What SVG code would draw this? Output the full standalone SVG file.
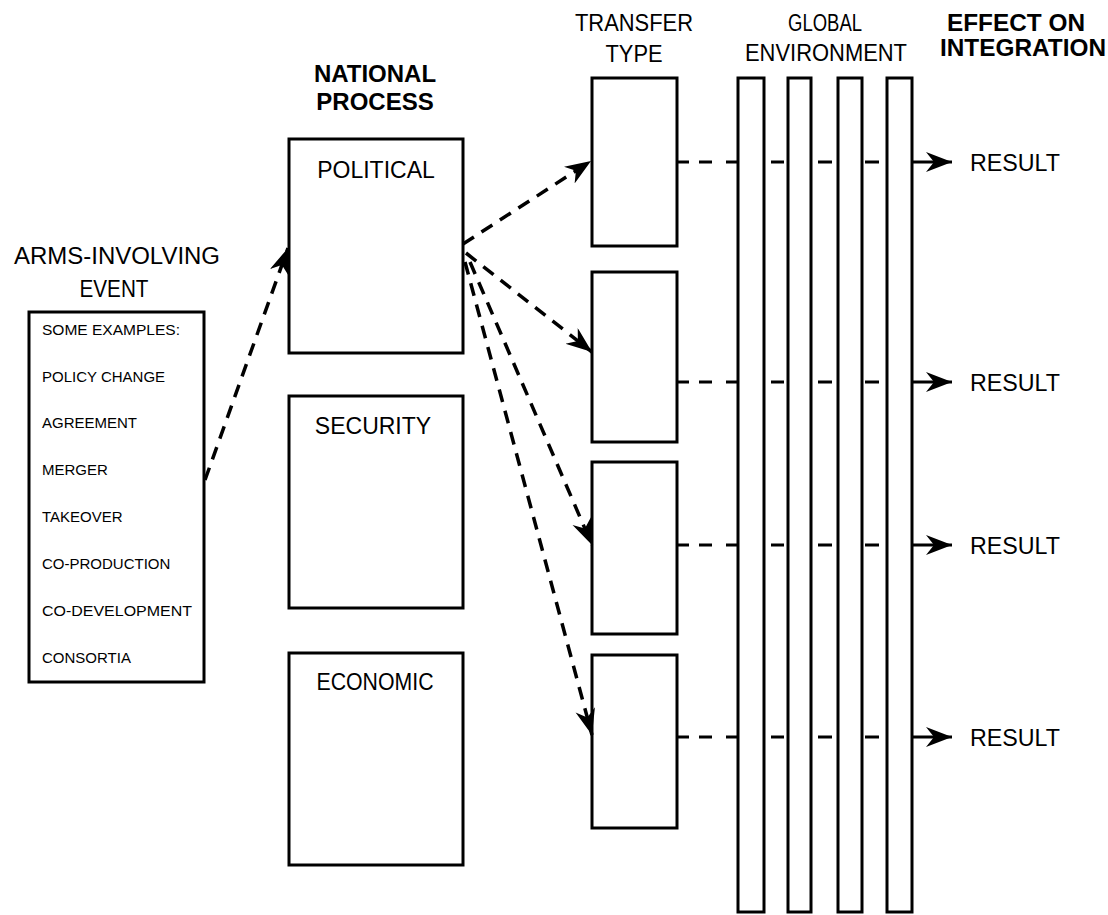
<svg xmlns="http://www.w3.org/2000/svg" width="1108" height="915" viewBox="0 0 1108 915">
  <style>
    .box { fill: #ffffff; stroke: #000000; stroke-width: 3; }
    .col { fill: #ffffff; stroke: #000000; stroke-width: 3; }
    .t { font-family: "Liberation Sans", Arial, sans-serif; fill: #000000; }
    .hdr { font-size: 23px; text-anchor: middle; }
    .hdrb { font-size: 24px; font-weight: bold; text-anchor: middle; }
    .lbl { font-size: 23px; text-anchor: middle; }
    .item { font-size: 15px; }
    .res { font-size: 24px; }
    .dash { fill: none; stroke: #000000; stroke-width: 3.5; stroke-dasharray: 13 9; }
    .seg { fill: none; stroke: #000000; stroke-width: 3; }
  </style>
  <defs>
    <marker id="head" markerUnits="userSpaceOnUse" markerWidth="28" markerHeight="22" refX="26" refY="10" orient="auto">
      <path d="M0,0 L26,10 L0,20 L8,10 Z" fill="#000000"/>
    </marker>
  </defs>

  <rect width="1108" height="915" fill="#ffffff"/>

  <!-- column headings -->
  <g id="headings">
    <text class="t hdr" x="117" y="264" textLength="206" lengthAdjust="spacingAndGlyphs">ARMS-INVOLVING</text>
    <text class="t hdr" x="114" y="297" textLength="69" lengthAdjust="spacingAndGlyphs">EVENT</text>
    <text class="t hdrb" x="375" y="82">NATIONAL</text>
    <text class="t hdrb" x="375" y="110">PROCESS</text>
    <text class="t hdr" x="634" y="31" textLength="118" lengthAdjust="spacingAndGlyphs">TRANSFER</text>
    <text class="t hdr" x="634" y="62" textLength="57" lengthAdjust="spacingAndGlyphs">TYPE</text>
    <text class="t hdr" x="825" y="31" textLength="74" lengthAdjust="spacingAndGlyphs">GLOBAL</text>
    <text class="t hdr" x="826" y="61" textLength="162" lengthAdjust="spacingAndGlyphs">ENVIRONMENT</text>
    <text class="t hdrb" x="1016" y="31" textLength="138" lengthAdjust="spacingAndGlyphs">EFFECT ON</text>
    <text class="t hdrb" x="1023" y="56" textLength="166" lengthAdjust="spacingAndGlyphs">INTEGRATION</text>
  </g>

  <!-- arms-involving event -->
  <g id="event">
    <rect class="box" x="29" y="312" width="175" height="370"/>
    <text class="t item" x="42" y="335" textLength="138" lengthAdjust="spacingAndGlyphs">SOME EXAMPLES:</text>
    <text class="t item" x="42" y="382">POLICY CHANGE</text>
    <text class="t item" x="42" y="428">AGREEMENT</text>
    <text class="t item" x="42" y="475">MERGER</text>
    <text class="t item" x="42" y="522">TAKEOVER</text>
    <text class="t item" x="42" y="569">CO-PRODUCTION</text>
    <text class="t item" x="42" y="616" textLength="150" lengthAdjust="spacingAndGlyphs">CO-DEVELOPMENT</text>
    <text class="t item" x="42" y="663">CONSORTIA</text>
  </g>

  <!-- national process -->
  <g id="political">
    <rect class="box" x="289" y="139" width="174" height="214"/>
    <text class="t lbl" x="376" y="178">POLITICAL</text>
  </g>
  <g id="security">
    <rect class="box" x="289" y="396" width="174" height="212"/>
    <text class="t lbl" x="373" y="434">SECURITY</text>
  </g>
  <g id="economic">
    <rect class="box" x="289" y="653" width="174" height="212"/>
    <text class="t lbl" x="375" y="690" textLength="117" lengthAdjust="spacingAndGlyphs">ECONOMIC</text>
  </g>

  <!-- transfer types -->
  <g id="transfer1"><rect class="box" x="592" y="78" width="85" height="168"/></g>
  <g id="transfer2"><rect class="box" x="592" y="272" width="85" height="170"/></g>
  <g id="transfer3"><rect class="box" x="592" y="462" width="85" height="172"/></g>
  <g id="transfer4"><rect class="box" x="592" y="655" width="85" height="173"/></g>

  <!-- global environment -->
  <g id="environment">
    <rect class="col" x="738" y="78" width="26" height="834"/>
    <rect class="col" x="788" y="78" width="23" height="834"/>
    <rect class="col" x="838" y="78" width="24" height="834"/>
    <rect class="col" x="887" y="78" width="25" height="834"/>
  </g>

  <!-- effect on integration -->
  <g id="results">
    <text class="t res" x="970" y="171" textLength="90" lengthAdjust="spacingAndGlyphs">RESULT</text>
    <text class="t res" x="970" y="391" textLength="90" lengthAdjust="spacingAndGlyphs">RESULT</text>
    <text class="t res" x="970" y="554" textLength="90" lengthAdjust="spacingAndGlyphs">RESULT</text>
    <text class="t res" x="970" y="746" textLength="90" lengthAdjust="spacingAndGlyphs">RESULT</text>
  </g>

  <g id="connectors">
    <!-- event to political -->
    <path class="dash" d="M205,480 L288,248" marker-end="url(#head)"/>
    <!-- political to transfer types -->
    <path class="dash" d="M463,244 L591,161" marker-end="url(#head)"/>
    <path class="dash" d="M466,253 L592,352" marker-end="url(#head)"/>
    <path class="dash" d="M470,262 L592,545" marker-end="url(#head)"/>
    <path class="dash" d="M465,262 L592,735" marker-end="url(#head)"/>

    <!-- transfer types through the environment to results -->
    <g id="row1">
      <path class="seg" d="M678,162 h11 M699,162 h13 M726,162 h12 M771,162 h13 M818,162 h14 M865,162 h14"/>
      <path class="seg" d="M912,162 L952,162" marker-end="url(#head)"/>
    </g>
    <g id="row2">
      <path class="seg" d="M678,382 h11 M699,382 h13 M726,382 h12 M771,382 h13 M818,382 h14 M865,382 h14"/>
      <path class="seg" d="M912,382 L952,382" marker-end="url(#head)"/>
    </g>
    <g id="row3">
      <path class="seg" d="M678,545 h11 M699,545 h13 M726,545 h12 M771,545 h13 M818,545 h14 M865,545 h14"/>
      <path class="seg" d="M912,545 L952,545" marker-end="url(#head)"/>
    </g>
    <g id="row4">
      <path class="seg" d="M678,737 h11 M699,737 h13 M726,737 h12 M771,737 h13 M818,737 h14 M865,737 h14"/>
      <path class="seg" d="M912,737 L952,737" marker-end="url(#head)"/>
    </g>
  </g>
</svg>
